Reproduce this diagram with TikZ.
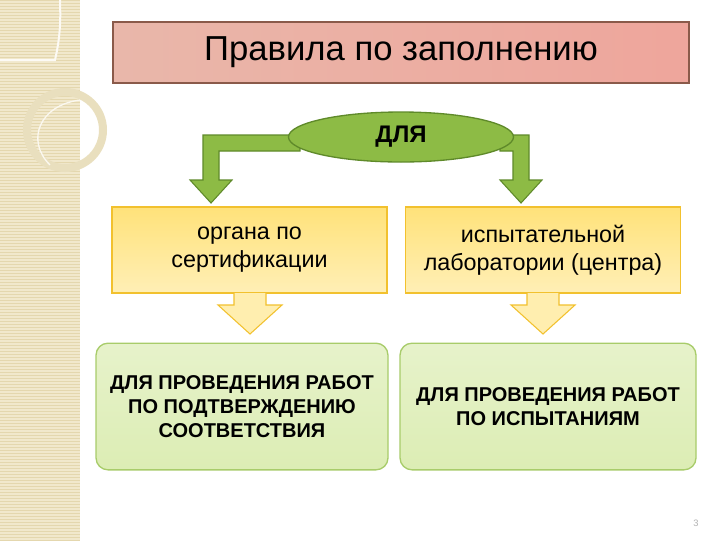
\documentclass[tikz,border=0pt]{standalone}
\usepackage{fontspec}
\setmainfont{Liberation Sans}
\usetikzlibrary{shapes.geometric}
\definecolor{strip}{HTML}{F1E8CC}
\definecolor{stripline}{HTML}{E4D7AE}
\definecolor{titlefill}{HTML}{E9B7AA}
\definecolor{titleedge}{HTML}{8A5A4A}
\definecolor{gfill}{HTML}{8DBB45}
\definecolor{gedge}{HTML}{5F8A2A}
\definecolor{yfill}{HTML}{FFE27A}
\definecolor{yedge}{HTML}{F2C12E}
\definecolor{lgfill}{HTML}{DCEDB4}
\definecolor{lgedge}{HTML}{A8CC6A}
\tikzset{
  ybox/.style={draw=yedge,line width=1pt,top color=yfill,bottom color=yfill!55!white,minimum width=206.25pt,minimum height=64.5pt,align=center,font=\fontsize{17.5}{21}\selectfont,inner sep=0},
  gbox/.style={draw=lgedge,line width=1pt,top color=lgfill!70!white,bottom color=lgfill,rounded corners=9pt,minimum width=219pt,minimum height=95pt,align=center,font=\bfseries\fontsize{15}{18}\selectfont,inner sep=0},
  garrow/.style={fill=gfill,draw=gedge,line width=0.8pt,line join=miter},
  yarrow/.style={fill=yfill!60!white,draw=yedge,line width=0.8pt}
}
\begin{document}
\begin{tikzpicture}[x=0.75pt,y=-0.75pt]
\useasboundingbox (0,0) rectangle (720,540);
\fill[white] (0,0) rectangle (720,540);
% left strip
\fill[strip] (0,0) rectangle (80,540);
\foreach \i in {0,3,...,540} \draw[stripline,line width=0.3pt] (0,\i) -- (80,\i);
\draw[white!80!strip,line width=1.5pt] (0,60) -- (55,60) .. controls (62,30) and (60,10) .. (60,0);
\draw[stripline!80!white,line width=6pt] (65,130) circle (38);
\draw[white!70!strip,line width=1pt] (80,100) .. controls (40,105) and (25,140) .. (50,165);
% title
\node[draw=titleedge,line width=0.8pt,left color=titlefill,right color=titlefill!85!red!90!white,minimum width=432pt,minimum height=45.75pt,inner sep=0,font=\fontsize{26}{30}\selectfont] (title) at (401,52.5) {Правила по заполнению};
% arrows from ellipse
\draw[garrow] (300,135) -- (203,135) -- (203,180) -- (190,180) -- (211,203) -- (232,180) -- (219,180) -- (219,151) -- (300,151) -- cycle;
\draw[garrow] (500,135) -- (529,135) -- (529,180) -- (542,180) -- (521,203) -- (500,180) -- (513,180) -- (513,151) -- (500,151) -- cycle;
\node[ellipse,draw=gedge,line width=1pt,fill=gfill,minimum width=168.75pt,minimum height=37.5pt,inner sep=0,font=\bfseries\fontsize{18}{21}\selectfont] (dla) at (401,137) {ДЛЯ};
% yellow boxes
\node[ybox] (org) at (249.5,250) {органа по\\сертификации};
\node[ybox] (lab) at (543,250) {испытательной\\лаборатории (центра)};
% yellow arrows
\draw[yarrow] (234,293) -- (234,305) -- (218,305) -- (250,334) -- (282,305) -- (266,305) -- (266,293);
\draw[yarrow] (527,293) -- (527,305) -- (511,305) -- (543,334) -- (575,305) -- (559,305) -- (559,293);
% green boxes
\node[gbox] (w1) at (242,406.5) {ДЛЯ ПРОВЕДЕНИЯ РАБОТ\\ПО ПОДТВЕРЖДЕНИЮ\\СООТВЕТСТВИЯ};
\node[gbox,minimum width=222pt] (w2) at (548,406.5) {ДЛЯ ПРОВЕДЕНИЯ РАБОТ\\ПО ИСПЫТАНИЯМ};
\node[text=gray!60,font=\fontsize{7}{8}\selectfont] (pg) at (696,523) {3};
\end{tikzpicture}
\end{document}
